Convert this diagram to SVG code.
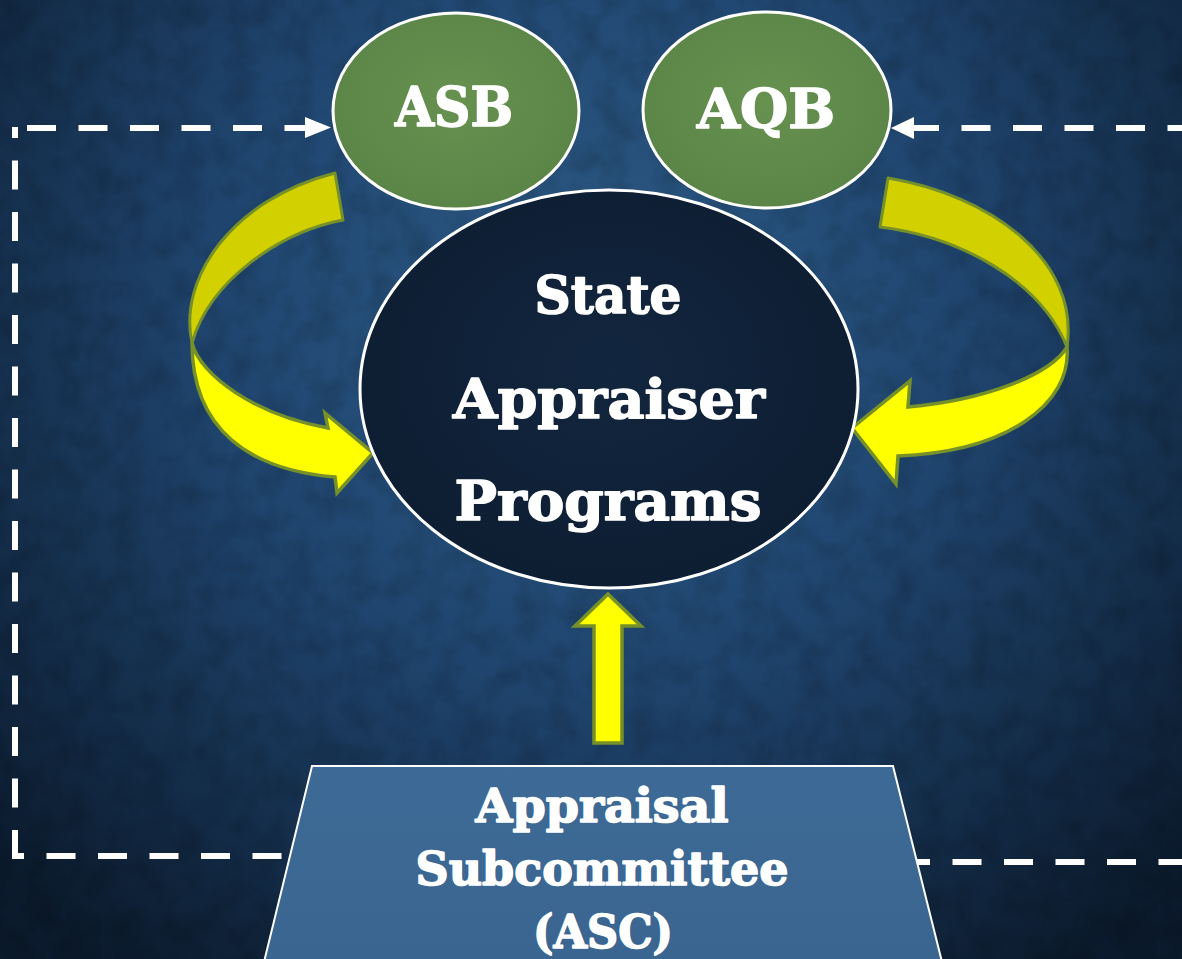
<svg xmlns="http://www.w3.org/2000/svg" width="1182" height="959" viewBox="0 0 1182 959">
<defs>
<radialGradient id="bg" cx="590" cy="300" r="820" gradientUnits="userSpaceOnUse">
<stop offset="0" stop-color="#2c5983"/>
<stop offset="0.45" stop-color="#204670"/>
<stop offset="1" stop-color="#0b1a2c"/>
</radialGradient>
<radialGradient id="green" cx="0.5" cy="0.45" r="0.6">
<stop offset="0" stop-color="#66914f"/>
<stop offset="1" stop-color="#5a8447"/>
</radialGradient>
<radialGradient id="dark" cx="0.5" cy="0.45" r="0.6">
<stop offset="0" stop-color="#12263f"/>
<stop offset="1" stop-color="#0d1d31"/>
</radialGradient>
<linearGradient id="trap" x1="0" y1="0" x2="0" y2="1">
<stop offset="0" stop-color="#3d6a96"/>
<stop offset="1" stop-color="#3a6590"/>
</linearGradient>
<filter id="tex" x="0" y="0" width="100%" height="100%">
<feTurbulence type="fractalNoise" baseFrequency="0.035" numOctaves="3" seed="4"/>
<feColorMatrix type="matrix" values="0 0 0 0 0  0 0 0 0 0  0 0 0 0 0  0 0 0 -0.9 0.55"/>
</filter>
<style>
.dash{fill:none;stroke:#ffffff;stroke-width:6;stroke-dasharray:29 22.5}
.lbl{font-family:"DejaVu Serif","Liberation Serif",serif;font-weight:bold;fill:#ffffff;stroke:#ffffff;stroke-width:1.6;stroke-linejoin:round;text-anchor:middle}
.back{fill:#d3d000;stroke:#76902a;stroke-width:3;stroke-linejoin:round}
.front{fill:#ffff00;stroke:#76902a;stroke-width:3.5;stroke-linejoin:miter}
.oval{stroke:#ffffff;stroke-width:3}
</style>
</defs>
<rect width="1182" height="959" fill="url(#bg)"/>
<rect width="1182" height="959" filter="url(#tex)" opacity="0.35"/>

<g id="connectors">
<path class="dash" d="M 15 856 H 320" stroke-dashoffset="20"/>
<path class="dash" d="M 15 859 V 127"/>
<path class="dash" d="M 27 128 H 306"/>
<polygon points="305,117 331,127.5 305,138" fill="#ffffff"/>
<path class="dash" d="M 901 862 H 1182"/>
<path class="dash" d="M 913 128 H 1182" stroke-dashoffset="3"/>
<polygon points="914,117 891,128 914,139" fill="#ffffff"/>
<g id="arrow-left">
<path class="back" d="M 335 173 L 343 220 C 280 232 210 280 192 343 C 178 280 230 200 335 173 Z"/>
<path class="front" d="M 192 343 C 200 375 255 415 328 428 L 325 413 L 373 453 L 337 493 L 335 477 C 250 470 192 430 192 343 Z"/>
</g>
<g id="arrow-right">
<path class="back" d="M 888 178 C 990 195 1080 260 1067 347 C 1040 280 960 237 880 227 Z"/>
<path class="front" d="M 1067 347 C 1072 405 1005 452 898 456 L 896 484 L 852 428 L 910 381 L 908 407 C 985 400 1050 375 1067 347 Z"/>
</g>
<polygon id="arrow-up" class="front" points="608,594 641,626 622,626 622,743 594,743 594,626 575,626"/>
</g>

<g id="asb">
<ellipse class="oval" cx="456" cy="111" rx="123" ry="98" fill="url(#green)"/>
<text class="lbl" x="454" y="126" font-size="55" textLength="118" lengthAdjust="spacingAndGlyphs">ASB</text>
</g>
<g id="aqb">
<ellipse class="oval" cx="767" cy="110" rx="124" ry="98" fill="url(#green)"/>
<text class="lbl" x="766" y="128" font-size="55" textLength="138" lengthAdjust="spacingAndGlyphs">AQB</text>
</g>
<g id="state-programs">
<ellipse class="oval" cx="609" cy="389" rx="249" ry="199" fill="url(#dark)"/>
<text class="lbl" x="608" y="313" font-size="53" textLength="147" lengthAdjust="spacingAndGlyphs">State</text>
<text class="lbl" x="609" y="418" font-size="55" textLength="312" lengthAdjust="spacingAndGlyphs">Appraiser</text>
<text class="lbl" x="608" y="520" font-size="55" textLength="307" lengthAdjust="spacingAndGlyphs">Programs</text>
</g>
<g id="asc">
<polygon points="312,766 893,766 942,962 264,962" fill="url(#trap)" stroke="#ffffff" stroke-width="2"/>
<text class="lbl" x="602" y="822" font-size="47" textLength="253" lengthAdjust="spacingAndGlyphs">Appraisal</text>
<text class="lbl" x="602" y="885" font-size="47" textLength="373" lengthAdjust="spacingAndGlyphs">Subcommittee</text>
<text class="lbl" x="603" y="948" font-size="47" textLength="140" lengthAdjust="spacingAndGlyphs">(ASC)</text>
</g>
</svg>
